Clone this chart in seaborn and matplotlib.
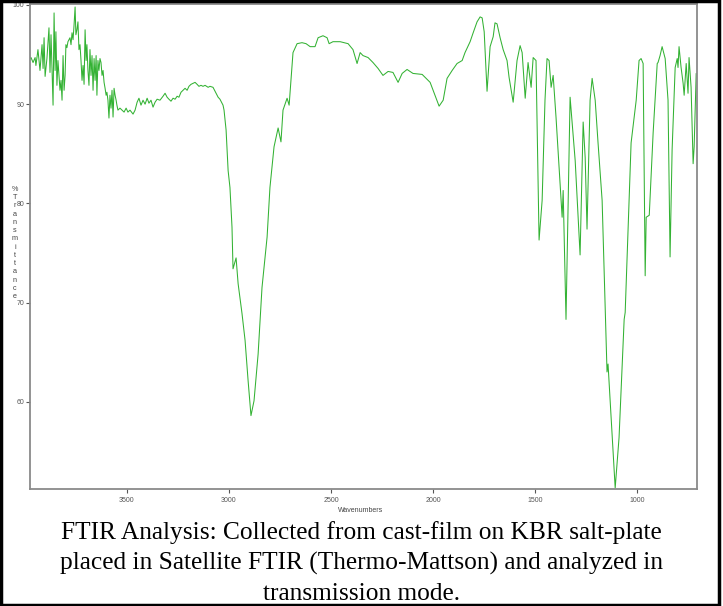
import numpy as np
import pandas as pd
import matplotlib
matplotlib.use('Agg')
import matplotlib.pyplot as plt
import seaborn as sns

sns.set_style("white")
plt.rcParams['font.family'] = ['Liberation Sans', 'DejaVu Sans']

# wavenumber (cm-1) and % transmittance
wavenumber = [
    3975, 3970, 3960, 3950, 3946, 3936, 3926, 3916, 3911, 3906, 3901, 3892, 3882, 3877,
    3872, 3862, 3857, 3852, 3848, 3843, 3838, 3828, 3823, 3818, 3813, 3808, 3803, 3799,
    3794, 3789, 3779, 3774, 3769, 3764, 3759, 3754, 3750, 3745, 3740, 3735, 3730, 3725,
    3720, 3715, 3710, 3705, 3700, 3696, 3691, 3686, 3681, 3676, 3671, 3666, 3661, 3656,
    3651, 3647, 3642, 3637, 3632, 3627, 3622, 3617, 3612, 3607, 3602, 3598, 3593, 3588,
    3583, 3578, 3573, 3568, 3563, 3558, 3553, 3549, 3544, 3534, 3524, 3514, 3504, 3495,
    3485, 3470, 3460, 3450, 3441, 3431, 3421, 3411, 3401, 3392, 3382, 3372, 3362, 3352,
    3338, 3323, 3313, 3303, 3294, 3284, 3274, 3264, 3254, 3245, 3235, 3225, 3215, 3205,
    3196, 3186, 3176, 3166, 3156, 3147, 3137, 3127, 3117, 3102, 3093, 3078, 3063, 3053,
    3044, 3034, 3029, 3024, 3014, 3004, 2995, 2985, 2980, 2965, 2955, 2936, 2921, 2906,
    2892, 2877, 2857, 2838, 2813, 2799, 2779, 2759, 2745, 2735, 2715, 2705, 2696, 2686,
    2666, 2642, 2622, 2602, 2578, 2563, 2539, 2519, 2509, 2490, 2455, 2416, 2392, 2372,
    2357, 2343, 2318, 2294, 2269, 2245, 2220, 2196, 2171, 2151, 2127, 2098, 2053, 2014,
    1990, 1970, 1950, 1931, 1906, 1882, 1857, 1843, 1818, 1803, 1784, 1769, 1759, 1749,
    1735, 1720, 1705, 1696, 1686, 1671, 1656, 1637, 1627, 1607, 1588, 1573, 1563, 1548,
    1534, 1519, 1509, 1495, 1480, 1465, 1451, 1441, 1431, 1421, 1411, 1397, 1382, 1367,
    1362, 1348, 1328, 1303, 1279, 1264, 1254, 1245, 1230, 1220, 1205, 1191, 1171, 1147,
    1142, 1107, 1088, 1063, 1058, 1039, 1029, 1004, 990, 980, 970, 960, 955, 940,
    921, 901, 897, 887, 877, 862, 848, 838, 828, 813, 803, 799, 794, 784,
    774, 769, 759, 750, 745, 735, 725, 720, 710,
]
transmittance = [
    94.6, 94.7, 94.2, 94.7, 93.9, 95.5, 93.4, 96.0, 93.6, 96.7, 92.8, 94.6, 97.7, 93.2,
    97.0, 89.9, 99.2, 93.4, 97.3, 91.9, 94.4, 91.4, 92.4, 90.4, 94.9, 91.4, 92.9, 96.0,
    95.7, 96.3, 96.7, 96.0, 97.2, 96.5, 98.0, 99.8, 97.0, 97.5, 98.3, 95.5, 96.0, 94.4,
    92.4, 93.9, 92.0, 97.5, 94.4, 96.0, 93.4, 91.9, 95.5, 92.9, 94.9, 91.4, 94.6, 92.4,
    94.9, 90.9, 94.4, 93.4, 94.6, 94.2, 92.9, 93.4, 92.2, 91.6, 90.9, 91.2, 90.4, 88.6,
    90.9, 89.6, 91.4, 88.7, 91.6, 90.9, 90.4, 89.9, 89.4, 89.6, 89.4, 89.2, 89.6, 89.2,
    89.4, 89.0, 89.4, 90.2, 90.6, 89.9, 90.4, 90.0, 90.6, 90.1, 90.4, 89.7, 90.2, 90.5,
    90.4, 90.8, 91.1, 90.7, 90.5, 90.3, 90.6, 90.5, 90.8, 90.7, 91.2, 91.4, 91.6, 91.4,
    91.8, 92.0, 92.1, 92.2, 92.0, 91.8, 91.9, 91.8, 91.9, 91.7, 91.8, 91.7, 91.1, 90.7,
    90.5, 90.1, 89.9, 89.4, 87.4, 83.3, 81.6, 77.6, 73.4, 74.5, 71.9, 68.9, 66.2, 62.1,
    58.6, 60.1, 64.8, 71.5, 76.6, 81.6, 85.7, 87.6, 86.2, 89.4, 90.6, 89.9, 92.4, 95.2,
    96.1, 96.2, 96.1, 95.8, 95.8, 96.7, 96.9, 96.7, 96.1, 96.3, 96.3, 96.1, 95.5, 94.1,
    95.2, 94.9, 94.7, 94.2, 93.6, 92.9, 93.3, 93.2, 92.2, 93.1, 93.5, 93.1, 93.0, 92.2,
    90.9, 89.8, 90.4, 92.6, 93.4, 94.1, 94.4, 95.2, 96.3, 97.2, 98.3, 98.8, 98.7, 97.3,
    91.3, 95.8, 96.8, 98.2, 98.1, 96.7, 95.5, 94.4, 92.7, 90.2, 94.4, 95.9, 95.2, 90.6,
    94.2, 91.7, 94.7, 94.4, 76.3, 80.3, 90.4, 94.6, 94.4, 91.7, 92.9, 88.7, 83.6, 78.6,
    81.3, 68.3, 90.7, 84.3, 74.8, 88.2, 84.6, 77.4, 90.4, 92.6, 90.4, 86.1, 80.3, 63.0,
    63.8, 51.3, 56.4, 68.3, 69.0, 80.3, 86.1, 90.4, 94.4, 94.6, 94.1, 72.7, 78.6, 78.8,
    87.1, 94.1, 94.2, 94.9, 95.8, 94.6, 90.4, 74.6, 85.4, 93.7, 94.6, 93.7, 95.8, 93.7,
    92.1, 90.9, 94.1, 91.1, 94.7, 91.7, 84.0, 85.7, 93.1,
]
x_ticks = [3500, 3000, 2500, 2000, 1500, 1000]
y_ticks = [60, 70, 80, 90, 100]

caption_lines = [
    "FTIR Analysis: Collected from cast-film on KBR salt-plate",
    "placed in Satellite FTIR (Thermo-Mattson) and analyzed in",
    "transmission mode.",
]

df = pd.DataFrame({"Wavenumbers": wavenumber, "T": transmittance})

fig = plt.figure(figsize=(7.23, 6.06), dpi=100)
ax = fig.add_axes([30 / 723, 1 - 489 / 606, 667 / 723, 485 / 606])

sns.lineplot(data=df, x="Wavenumbers", y="T", ax=ax, color="#33b233",
             linewidth=0.75, estimator=None, sort=False)

ax.set_xlim(3975, 706)
ax.set_ylim(51.2, 100.1)
ax.set_xticks(x_ticks)
ax.set_yticks(y_ticks)
ax.tick_params(axis='both', labelsize=5, colors='#555555', length=3, width=0.8,
               pad=1, direction='out', bottom=True, left=True)
ax.tick_params(axis='x', pad=2.5)
for s in ax.spines.values():
    s.set_color('#8a8a8a')
    s.set_linewidth(1.3)
ax.set_xlabel("")
ax.set_ylabel("")

fig.text(361 / 723, 1 - 511 / 606, "Wavenumbers", ha='center', va='center',
         fontsize=5, color='#444444')
fig.text(15 / 723, 1 - 243 / 606, "\n".join("%Transmittance"), ha='center',
         va='center', fontsize=5.2, color='#444444', linespacing=1.25)

for line, base in zip(caption_lines, [539, 569.5, 599.5]):
    fig.text(0.5, 1 - base / 606, line, ha='center', va='baseline',
             fontsize=18.3, family='Liberation Serif', color='black')

# outer black frame
fig.patches.append(plt.Rectangle((0.002, 0.002), 0.992, 0.996, transform=fig.transFigure,
                                 fill=False, edgecolor='black', linewidth=2.5))

fig.savefig('out.png', dpi=100, facecolor='white')
